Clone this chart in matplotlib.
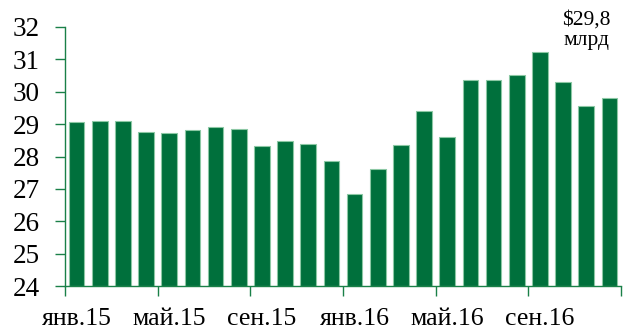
import matplotlib.pyplot as plt
import numpy as np

# monthly values, Jan 2015 - Dec 2016, $ bn
months = ['янв.15', 'фев.15', 'мар.15', 'апр.15', 'май.15', 'июн.15',
          'июл.15', 'авг.15', 'сен.15', 'окт.15', 'ноя.15', 'дек.15',
          'янв.16', 'фев.16', 'мар.16', 'апр.16', 'май.16', 'июн.16',
          'июл.16', 'авг.16', 'сен.16', 'окт.16', 'ноя.16', 'дек.16']
values = [29.06, 29.11, 29.11, 28.76, 28.72, 28.81, 28.91, 28.86,
          28.32, 28.47, 28.38, 27.87, 26.84, 27.62, 28.37, 29.41,
          28.61, 30.35, 30.35, 30.53, 31.22, 30.30, 29.55, 29.8]
last_label = '$29,8\nмлрд'

plt.rcParams['font.family'] = ['Liberation Serif', 'DejaVu Serif']
green = '#00703c'
axis_green = '#1a8048'

fig = plt.figure(figsize=(6.28, 3.29), dpi=100)
ax = fig.add_axes([65/628, 43/329, 556/628, 259/329])

x = np.arange(len(values))
ax.bar(x, np.array(values) - 24, bottom=24, width=0.68, color=green,
       edgecolor='#8cc8a4', linewidth=0.8)

ax.set_xlim(-0.5, len(values) - 0.5)
ax.set_ylim(24, 32)
ax.set_yticks(range(24, 33))

# tick marks between groups of four months, labels under the first bar of each group
ax.set_xticks(np.arange(-0.5, len(values), 4))
ax.set_xticklabels([])
ax.set_xticks(x[::4], minor=True)
ax.set_xticklabels(months[::4], minor=True)
ax.tick_params(axis='x', which='major', length=7, width=1, color=axis_green, direction='out')
ax.tick_params(axis='x', which='minor', length=0, pad=15.5, labelsize=18.5)
ax.tick_params(axis='y', length=7, width=1, color=axis_green, labelsize=19.5, pad=11)

for side in ['top', 'right']:
    ax.spines[side].set_visible(False)
for side in ['left', 'bottom']:
    ax.spines[side].set_color(axis_green)
    ax.spines[side].set_linewidth(1)

ax.text(x[-2], 32.5, last_label, ha='center', va='top', fontsize=15.5,
        linespacing=1.05, clip_on=False)

fig.savefig('out.png', dpi=100)
